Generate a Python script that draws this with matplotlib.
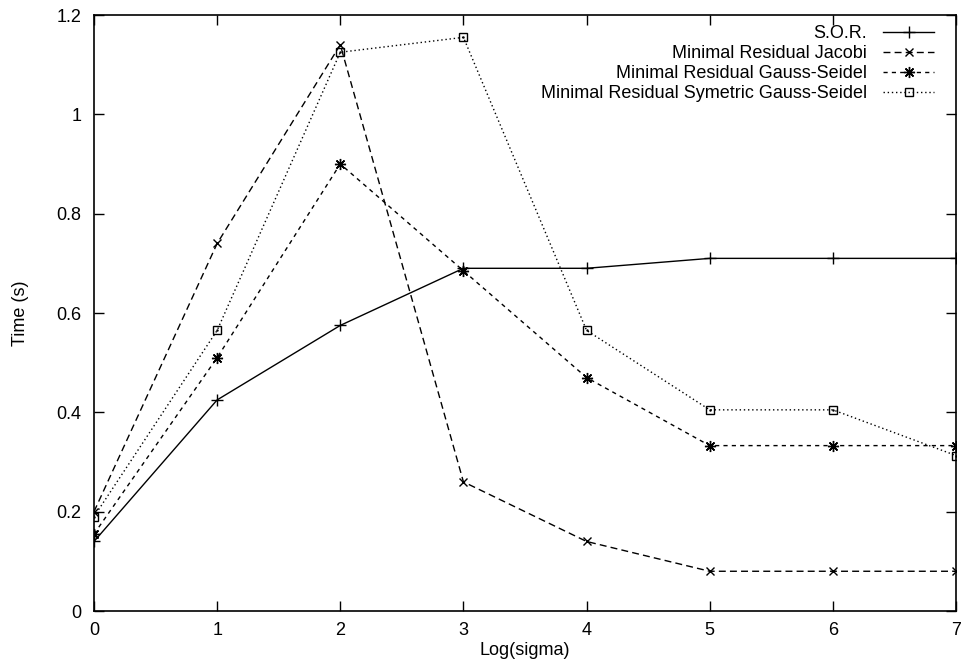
import matplotlib
matplotlib.use("Agg")
import matplotlib.pyplot as plt
from matplotlib.ticker import FuncFormatter

plt.rcParams['font.family'] = ['Liberation Sans', 'DejaVu Sans']

log_sigma = [0, 1, 2, 3, 4, 5, 6, 7]
sor = [0.14, 0.425, 0.575, 0.69, 0.69, 0.71, 0.71, 0.71]
mr_jacobi = [0.20, 0.74, 1.14, 0.26, 0.14, 0.08, 0.08, 0.08]
mr_gs = [0.155, 0.51, 0.90, 0.685, 0.47, 0.333, 0.333, 0.333]
mr_sgs = [0.19, 0.565, 1.125, 1.155, 0.565, 0.405, 0.405, 0.313]

labels = ['S.O.R.', 'Minimal Residual Jacobi', 'Minimal Residual Gauss-Seidel',
          'Minimal Residual Symetric Gauss-Seidel']

fig = plt.figure(figsize=(9.62, 6.67), dpi=100)
ax = fig.add_axes([94/962, 56/667, (956-94)/962, (611-15)/667])

ax.plot(log_sigma, sor, color='black', lw=1, marker='+', ms=8, mew=1, label=labels[0])
ax.plot(log_sigma, mr_jacobi, color='black', lw=1, ls=(0, (5, 3)), marker='x', ms=6, mew=1,
        label=labels[1])
ax.plot(log_sigma, mr_gs, color='black', lw=1, ls=(0, (3, 3)), marker=(8, 2, 0), ms=8, mew=1,
        label=labels[2])
ax.plot(log_sigma, mr_sgs, color='black', lw=1, ls=(0, (1, 2)), marker='s', ms=6, mew=1,
        mfc='none', label=labels[3])
ax.plot(log_sigma, mr_sgs, ls='none', marker='.', ms=1.5, color='black')

ax.set_xlim(0, 7)
ax.set_ylim(0, 1.2)
ax.set_xticks(range(8))
ax.set_yticks([0, 0.2, 0.4, 0.6, 0.8, 1.0, 1.2])
ax.yaxis.set_major_formatter(FuncFormatter(lambda v, p: '%g' % v))
ax.tick_params(direction='in', length=7, width=1, top=True, right=True, labelsize=13)
ax.tick_params(axis='y', pad=9)
ax.tick_params(axis='x', pad=8)
for s in ax.spines.values():
    s.set_linewidth(1.2)

ax.set_xlabel('Log(sigma)', fontsize=13, labelpad=2)
ax.set_ylabel('Time (s)', fontsize=13, labelpad=20)

leg = ax.legend(loc='upper right', markerfirst=False, frameon=False, fontsize=13,
                handlelength=2.8, handletextpad=0.9, labelspacing=0.17,
                borderpad=0, borderaxespad=0,
                bbox_to_anchor=(934/962, 1 - 25/667), bbox_transform=fig.transFigure)

fig.savefig('out.png', dpi=100)
